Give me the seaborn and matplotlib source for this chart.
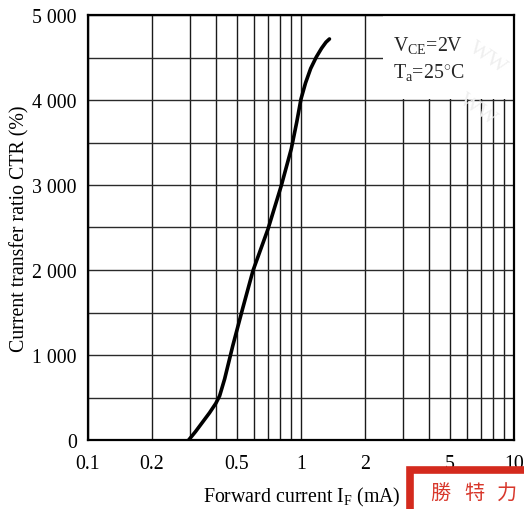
import matplotlib
matplotlib.use("Agg")
import matplotlib.pyplot as plt
import seaborn as sns
import pandas as pd
from matplotlib.patches import Rectangle
from matplotlib.ticker import FixedLocator, FixedFormatter, NullFormatter

# Characteristic curve: CTR vs forward current
forward_current_ma = [0.297, 0.32, 0.345, 0.372, 0.398, 0.415, 0.438, 0.478, 0.53, 0.595, 0.70, 0.808, 0.900, 0.955, 1.0, 1.05, 1.11, 1.18, 1.25, 1.31, 1.36]
ctr_percent = [0, 100, 210, 320, 430, 520, 718, 1106, 1530, 1992, 2482, 2992, 3424, 3740, 4012, 4200, 4370, 4506, 4610, 4680, 4718]

x_ticks = [0.1, 0.2, 0.5, 1, 2, 5, 10]
x_tick_labels = ["0.1", "0.2", "0.5", "1", "2", "5", "10"]
y_ticks = [0, 1000, 2000, 3000, 4000, 5000]
y_tick_labels = ["0", "1 000", "2 000", "3 000", "4 000", "5 000"]

sns.set_theme(style="white")
plt.rcParams["font.family"] = ["Liberation Serif", "DejaVu Serif"]
plt.rcParams["mathtext.fontset"] = "custom"
plt.rcParams["mathtext.rm"] = "Liberation Serif"
plt.rcParams["mathtext.it"] = "Liberation Serif:italic"

FS = 14.3

fig = plt.figure(figsize=(5.24, 5.10), dpi=100)
ax = fig.add_axes([88 / 524, 1 - 441 / 510, (514 - 88) / 524, (441 - 16) / 510])

df = pd.DataFrame({"IF": forward_current_ma, "CTR": ctr_percent})
sns.lineplot(data=df, x="IF", y="CTR", ax=ax, color="black", linewidth=2.6,
             sort=False, estimator=None, zorder=5)

ax.set_xscale("log")
ax.set_xlim(0.1, 10)
ax.set_ylim(0, 5000)

# grid: every integer multiple per decade, every 500 in CTR
minor_x = [m * d for d in (0.1, 1) for m in range(1, 10)] + [10]
for xv in minor_x:
    ax.axvline(xv, color="#1a1a1a", linewidth=1.0, zorder=1)
for yv in range(0, 5001, 500):
    ax.axhline(yv, color="#2a2a2a", linewidth=1.0, zorder=1)

ax.xaxis.set_major_locator(FixedLocator(x_ticks))
ax.xaxis.set_major_formatter(FixedFormatter(x_tick_labels))
ax.xaxis.set_minor_formatter(NullFormatter())
ax.yaxis.set_major_locator(FixedLocator(y_ticks))
ax.yaxis.set_major_formatter(FixedFormatter(y_tick_labels))
ax.tick_params(axis="both", which="both", length=0, labelsize=FS, colors="black")
ax.tick_params(axis="x", pad=10)
ax.tick_params(axis="y", pad=8)

for s in ax.spines.values():
    s.set_visible(True)
    s.set_color("black")
    s.set_linewidth(1.6)
    s.set_zorder(6)

ax.set_xlabel("")
ax.set_ylabel("Current transfer ratio CTR (%)", fontsize=FS, labelpad=2, color="black")
fig.text(302 / 524, 1 - 497 / 510, r"Forward current I$_\mathrm{F}$ (mA)",
         ha="center", va="center", fontsize=FS, color="black")

# condition box in upper right
ax.add_patch(Rectangle((0.692, 0.802), 0.32, 0.21, transform=ax.transAxes,
                       facecolor="white", edgecolor="none", zorder=3))
ax.text(0.715, 0.93, r"V$_\mathrm{CE}$=2V", transform=ax.transAxes,
        fontsize=FS, ha="left", va="center", zorder=7)
ax.text(0.715, 0.868, r"T$_\mathrm{a}$=25$^{\circ}$C", transform=ax.transAxes,
        fontsize=FS, ha="left", va="center", zorder=7)

# faint watermark letters
for (wx, wy) in [(488, 58), (478, 110)]:
    fig.text(wx / 524, 1 - wy / 510, "WW", fontsize=16, color="#efefef",
             rotation=-35, ha="center", va="center", zorder=4)

# red stamp in lower right corner
fig.patches.append(Rectangle((410 / 524, -0.05), 1, (510 - 471) / 510 + 0.05,
                             transform=fig.transFigure, facecolor="white",
                             edgecolor="#d42a1e", linewidth=5.5, zorder=10))
for cx, ch in [(440, "勝"), (474, "特"), (507, "力")]:
    fig.text(cx / 524, 1 - 494 / 510, ch, fontsize=14.5, color="#d8382c",
             family=["Noto Sans CJK TC", "DejaVu Sans"], ha="center", va="center", zorder=11)

fig.savefig("out.png", dpi=100)
